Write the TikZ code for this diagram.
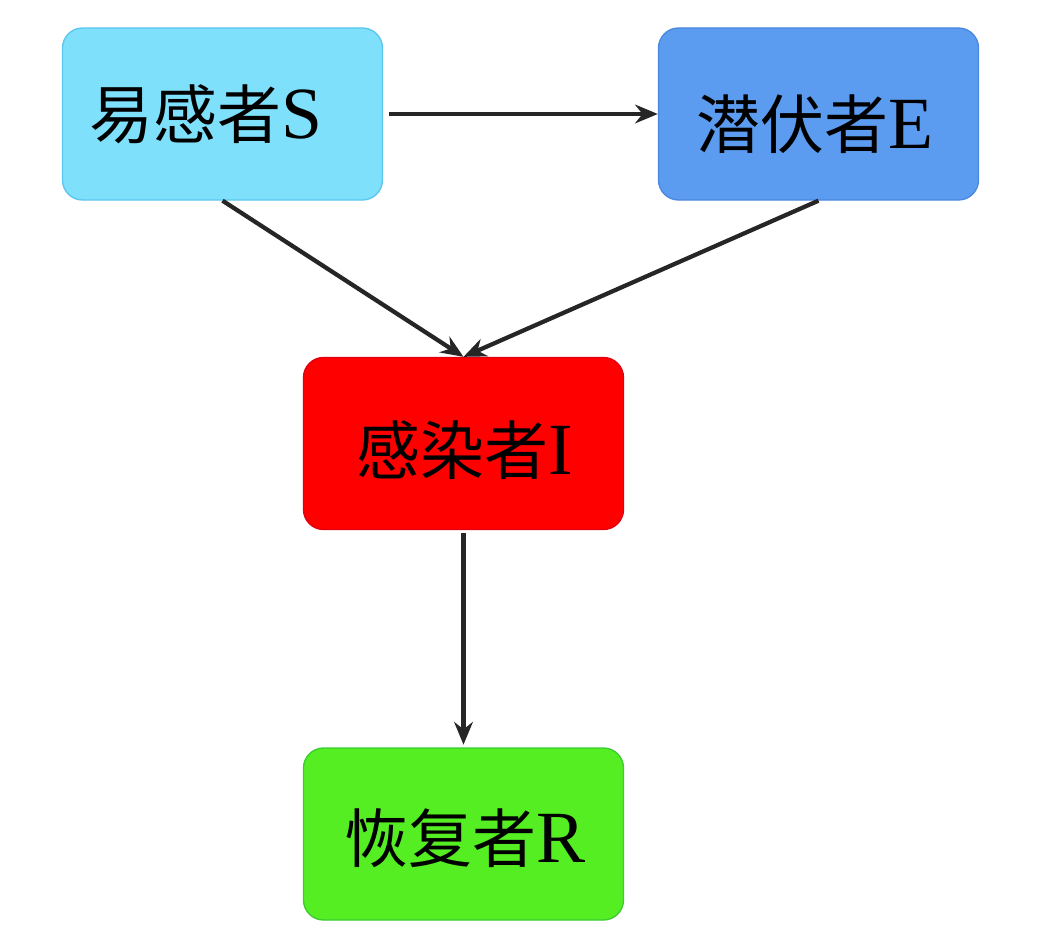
\documentclass[tikz,border=0pt]{standalone}
\usepackage{fontspec}
\setmainfont{Liberation Serif}[Scale=1.15]
\newfontfamily\cjk{Noto Sans CJK SC}
\usetikzlibrary{arrows.meta}
\definecolor{cS}{HTML}{7EE0FA}
\definecolor{cSb}{HTML}{5CC6EE}
\definecolor{cE}{HTML}{5B9CF0}
\definecolor{cEb}{HTML}{4A88E0}
\definecolor{cI}{HTML}{FF0000}
\definecolor{cIb}{HTML}{E00010}
\definecolor{cR}{HTML}{55EE22}
\definecolor{cRb}{HTML}{3CCC30}
\tikzset{
  stage/.style={rounded corners=15pt, minimum width=240pt, minimum height=129pt,
    line width=1pt, inner sep=0pt},
  lbl/.style={font=\fontsize{48}{52}\selectfont, inner sep=0pt},
  flow/.style={line width=3.2pt, -{Stealth[length=17pt,width=14pt]}, black!85}
}
\begin{document}
\begin{tikzpicture}[x=0.75pt,y=-0.75pt]
\useasboundingbox (0,0) rectangle (1049,945);
\node[stage, fill=cS, draw=cSb] (S) at (222.5,114) {};
\node[stage, fill=cE, draw=cEb] (E) at (818.5,114) {};
\node[stage, fill=cI, draw=cIb] (I) at (463.5,443.5) {};
\node[stage, fill=cR, draw=cRb] (R) at (463.5,834) {};
\node[lbl] (St) at (206,114) {{\cjk 易感者}S};
\node[lbl] (Et) at (815,124) {{\cjk 潜伏者}E};
\node[lbl] (It) at (465,450) {{\cjk 感染者}I};
\node[lbl] (Rt) at (465,838) {{\cjk 恢复者}R};
\draw[flow, shorten <=4pt] (S.east) -- (E.west);
\draw[flow] (S.south) -- (I.north);
\draw[flow] (E.south) -- (I.north);
\draw[flow, shorten <=2pt, shorten >=2pt] (I.south) -- (R.north);
\end{tikzpicture}
\end{document}
